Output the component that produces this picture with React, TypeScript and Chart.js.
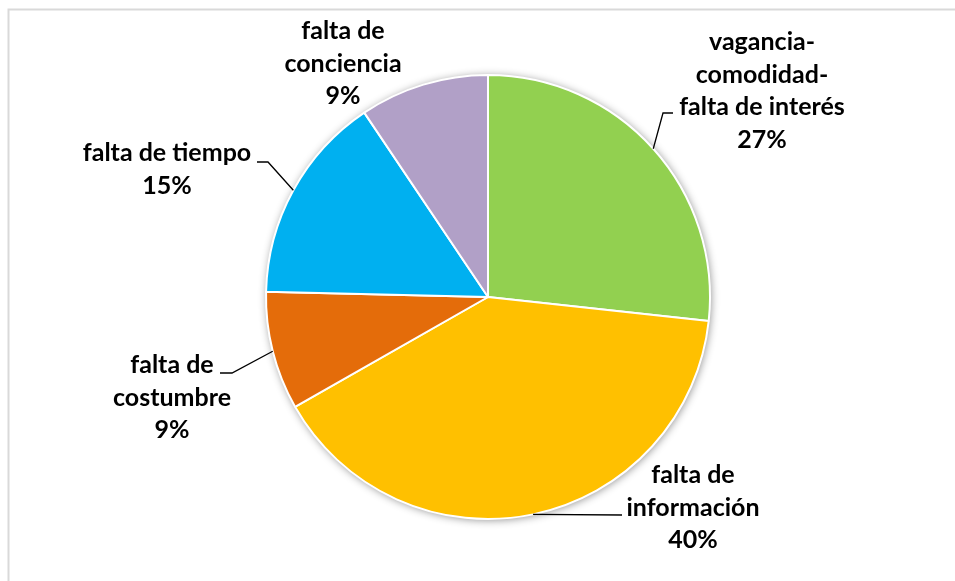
import React, { useEffect, useRef } from "react";
import { Chart, registerables } from "chart.js";

Chart.register(...registerables);

// ---- data ----
const CATEGORIES = [
  "vagancia-comodidad-falta de interés",
  "falta de información",
  "falta de costumbre",
  "falta de tiempo",
  "falta de conciencia",
];
const VALUES = [26.7, 40.0, 8.6, 15.2, 9.4];
const COLORS = ["#92D050", "#FFC000", "#E46C0A", "#00B0F0", "#B1A0C7"];
// wrapped label lines (text only)
const LABEL_LINES = [
  ["vagancia-", "comodidad-", "falta de interés"],
  ["falta de", "información"],
  ["falta de", "costumbre"],
  ["falta de tiempo"],
  ["falta de", "conciencia"],
];

// ---- layout (styling only) ----
const FONT = "bold 25px Lato, 'Open Sans', sans-serif";
const LINE_H = 32.5;
const LABEL_LAYOUT = [
  { cx: 762, y0: 50, leader: [[663, 113], [673, 113]] },
  { cx: 693, y0: 483, leader: [[622, 515]] },
  { cx: 172, y0: 373, leader: [[232, 373], [220, 373]] },
  { cx: 167, y0: 161, leader: [[268, 162], [257, 162]] },
  { cx: 343, y0: 39, leader: [] as number[][] },
];

const total = VALUES.reduce((a, b) => a + b, 0);

const labelPlugin = {
  id: "customLabels",
  beforeDraw(chart: any) {
    const ctx = chart.ctx;
    ctx.save();
    ctx.strokeStyle = "#d9d9d9";
    ctx.lineWidth = 2;
    ctx.beginPath();
    ctx.moveTo(8.5, 2000);
    ctx.lineTo(8.5, 9.5);
    ctx.lineTo(2000, 9.5);
    ctx.stroke();
    ctx.restore();
  },
  beforeDatasetsDraw(chart: any) {
    const meta = chart.getDatasetMeta(0);
    const arc = meta.data[0];
    if (!arc) return;
    const ctx = chart.ctx;
    ctx.save();
    ctx.shadowColor = "rgba(0,0,0,0.45)";
    ctx.shadowBlur = 9;
    ctx.shadowOffsetX = 1;
    ctx.shadowOffsetY = 1;
    ctx.fillStyle = "#ffffff";
    ctx.beginPath();
    ctx.arc(arc.x, arc.y, arc.outerRadius, 0, Math.PI * 2);
    ctx.fill();
    ctx.restore();
  },
  afterDatasetsDraw(chart: any) {
    const ctx = chart.ctx;
    const meta = chart.getDatasetMeta(0);
    ctx.save();
    meta.data.forEach((arc: any, i: number) => {
      const lay = LABEL_LAYOUT[i];
      const mid = (arc.startAngle + arc.endAngle) / 2;
      const sx = arc.x + Math.cos(mid) * arc.outerRadius;
      const sy = arc.y + Math.sin(mid) * arc.outerRadius;
      if (lay.leader.length) {
        ctx.strokeStyle = "#000";
        ctx.lineWidth = 1.3;
        ctx.beginPath();
        ctx.moveTo(sx, sy);
        lay.leader.forEach((p) => ctx.lineTo(p[0], p[1]));
        ctx.stroke();
      }
      const pct = Math.round((VALUES[i] / total) * 100) + "%";
      const lines = [...LABEL_LINES[i], pct];
      ctx.font = FONT;
      ctx.fillStyle = "#000";
      ctx.textAlign = "center";
      ctx.textBaseline = "alphabetic";
      lines.forEach((t, k) => ctx.fillText(t, lay.cx, lay.y0 + k * LINE_H));
    });
    ctx.restore();
  },
};

export default function App() {
  const ref = useRef<HTMLCanvasElement>(null);
  useEffect(() => {
    if (!ref.current) return;
    const chart = new Chart(ref.current, {
      type: "pie",
      data: {
        labels: CATEGORIES,
        datasets: [
          {
            data: VALUES,
            backgroundColor: COLORS,
            borderColor: "#ffffff",
            borderWidth: 2,
          },
        ],
      },
      options: {
        animation: false,
        responsive: false,
        radius: 222,
        layout: { padding: { left: 266, right: 245, top: 75, bottom: 62 } },
        plugins: {
          legend: { display: false },
          tooltip: { enabled: false },
        },
      } as any,
      plugins: [labelPlugin],
    });
    return () => chart.destroy();
  }, []);
  return (
    <div style={{ position: "fixed", left: 0, top: 0, width: 955, height: 581, background: "#fff" }}>
      <canvas ref={ref} width={955} height={581} style={{ display: "block", width: 955, height: 581 }} />
    </div>
  );
}
